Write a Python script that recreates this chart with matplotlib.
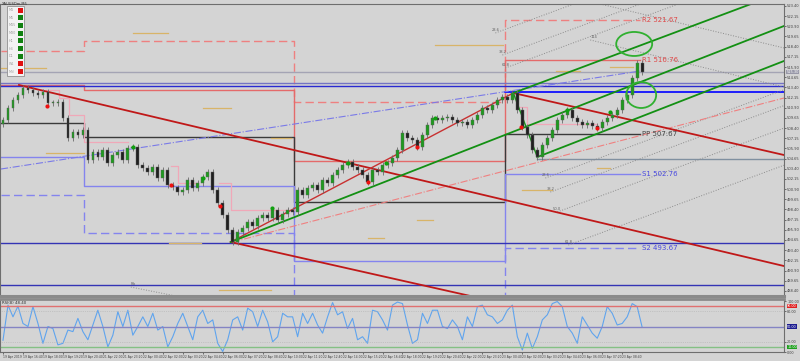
import matplotlib
matplotlib.use('Agg')
import matplotlib.pyplot as plt
import matplotlib.transforms as mtransforms
from matplotlib.patches import Ellipse, Rectangle
import numpy as np

# close price per bar
closes = [
    509.39, 510.86, 511.85, 512.46, 513.32, 513.08, 512.71, 512.46, 512.83, 511.48,
    511.48, 511.60, 509.64, 507.18, 507.92, 507.55, 508.16, 504.48, 505.46, 504.84,
    505.70, 504.11, 505.09, 505.46, 504.48, 505.95, 506.07, 503.86, 503.49, 503.00,
    503.62, 502.26, 503.25, 501.40, 501.10, 500.54, 500.79, 502.02, 501.04, 501.65,
    502.39, 503.00, 500.79, 499.19, 497.72, 495.88, 494.40, 495.63, 496.12, 496.86,
    496.37, 497.35, 497.72, 497.35, 498.33, 497.10, 497.84, 498.33, 498.09, 500.79,
    500.18, 501.04, 501.40, 500.79, 502.02, 501.65, 502.63, 503.25, 503.86, 504.23,
    503.62, 503.25, 502.63, 501.77, 503.25, 503.00, 503.86, 504.11, 504.72, 505.70,
    507.79, 507.18, 506.93, 506.07, 507.55, 508.78, 509.64, 509.39, 509.64, 509.76,
    509.39, 509.02, 509.14, 508.78, 509.39, 510.00, 510.86, 510.62, 511.23, 511.85,
    512.22, 511.85, 512.71, 510.62, 508.53, 507.55, 505.70, 504.84, 506.32, 507.18,
    508.16, 509.39, 510.00, 510.62, 509.64, 509.14, 508.78, 509.02, 508.65, 508.41,
    509.14, 509.64, 510.00, 510.62, 511.85, 512.46, 514.55, 516.40, 515.30]
first_open = 508.90

rsi_vals = [
    23, 92, 69, 90, 56, 50, 89, 56, 17, 50, 46, 14, 17, 43, 40, 66, 40, 24, 53, 82,
    50, 10, 33, 79, 50, 82, 33, 50, 69, 50, 76, 43, 50, 10, 30, 56, 76, 50, 24, 69,
    82, 56, 63, 17, 1, 24, 63, 69, 43, 86, 79, 50, 82, 59, 20, 30, 76, 69, 69, 30,
    76, 56, 76, 53, 37, 69, 97, 73, 79, 46, 66, 24, 30, 17, 82, 79, 63, 43, 92, 98,
    95, 53, 17, 24, 76, 56, 82, 82, 50, 46, 63, 50, 24, 69, 50, 89, 92, 73, 69, 56,
    63, 82, 92, 30, 4, 37, 7, 30, 63, 73, 95, 99, 89, 50, 37, 17, 69, 53, 37, 27,
    50, 89, 76, 53, 56, 69, 95, 89, 48.4]

time_labels = [
    "19 Apr 2019", "19 Apr 16:40", "19 Apr 18:00", "19 Apr 19:20", "19 Apr 20:40",
    "21 Apr 22:00", "21 Apr 23:20", "22 Apr 00:40", "22 Apr 02:00", "22 Apr 03:20",
    "22 Apr 04:40", "22 Apr 06:00", "22 Apr 07:20", "22 Apr 08:40", "22 Apr 10:00",
    "22 Apr 11:20", "22 Apr 12:40", "22 Apr 14:00", "22 Apr 15:20", "22 Apr 16:40",
    "22 Apr 18:00", "22 Apr 19:20", "22 Apr 20:40", "22 Apr 22:00", "22 Apr 23:20",
    "23 Apr 00:40", "23 Apr 02:00", "23 Apr 03:20", "23 Apr 04:40", "23 Apr 06:00",
    "23 Apr 07:20", "23 Apr 08:40"]

# daily pivots (bar index of day starts)
day_edges = [-0.4, 16.2, 58.2, 100.6, 127.6]
pivot_r2 = [517.87, 519.10, 511.60, 521.67]
pivot_r1 = [513.69, 513.08, 504.35, 516.76]
pivot_pp = [509.02, 507.30, 499.32, 507.67]
pivot_s1 = [504.84, 501.28, 492.07, 502.76]
pivot_s2 = [500.18, 495.51, 487.03, 493.67]

# horizontal levels
levels_full = [(515.30, '#a4a4b4', 1.0), (513.94, '#7474c4', 1.0), (513.57, '#2a2ad0', 1.0),
               (494.28, '#3434b4', 1.0), (489.12, '#3434b4', 1.0)]
levels_from = [(100.6, 512.83, '#1010ff', 1.3), (107.0, 504.60, '#8090a0', 1.0)]

# trend lines: (start, through point)
red_rays = [((3.2, 513.69), (156.4, 491.45)), ((102.2, 512.71), (156.4, 505.09)),
            ((45.6, 494.40), (93.6, 487.77))]
red_seg = [(45.6, 494.40), (102.2, 512.71)]
green_rays = [((45.6, 494.40), (156.4, 520.94)), ((102.2, 512.71), (149.8, 523.64)),
              ((107.0, 504.84), (156.4, 516.64))]
green_seg = [(102.2, 512.71), (107.0, 504.84)]
fib_starts = [(98.6, 520.08), (100.0, 517.37), (100.6, 515.78),
              (108.6, 502.26), (109.6, 500.54), (111.0, 498.09), (113.2, 494.03)]
fib_names = ["23.6", "38.2", "61.8", "23.6", "38.2", "50.0", "61.8"]
fib_slope = 0.227
gray_down = [((117.6, 519.22), (156.4, 513.44)), ((119.6, 523.64), (156.4, 518.24)),
             ((25.6, 488.87), (34.6, 487.77))]
blue_dashdot = [(-0.4, 503.37), (127.6, 515.41)]
red_dashdot = [(46.0, 494.40), (156.4, 512.09)]

# trailing stop steps
trail_x = [[8.6, 11.2, 13.2, 16.2, 25.0], [33.6, 35.0, 39.0], [43.2, 45.6, 58.2], [103.6, 105.0, 119.0]]
trail_y = [[513.08, 512.09, 510.00, 506.69, 506.69], [503.74, 501.65, 501.65],
           [501.65, 498.33, 498.33], [510.99, 508.90, 508.90]]

# short tan marks (start, end, price)
tan_marks = [(26, 33, 520.08), (-0.4, 8.6, 515.78), (40, 45.6, 510.86), (53.6, 57.6, 507.18),
             (8.6, 16.2, 505.34), (33.2, 39.6, 494.28), (43.2, 53.6, 488.5), (73, 76.2, 494.89),
             (86.6, 100.2, 518.60), (110.8, 115.6, 515.41), (121.6, 126.2, 515.90),
             (104, 110, 500.79), (119, 121.6, 503.49), (83, 86.2, 497.10)]

sell_x = [8.8, 33.6, 43.4, 73, 83, 103.8, 119]
sell_y = [511.11, 501.40, 498.82, 501.77, 506.07, 508.53, 508.41]
buy_x = [26, 40, 53.8, 69, 76.6, 86.6, 113, 121.6]
buy_y = [506.07, 502.26, 498.58, 504.11, 504.11, 509.64, 510.62, 510.37]

circles = [(126.4, 518.73, 7.2, 2.95), (127.8, 512.46, 6.0, 3.19)]

tf_names = ["M1", "M5", "M15", "M30", "H1", "H4", "D1", "W1", "MN"]
tf_state = ['#e01010', '#108010', '#108010', '#108010', '#108010', '#108010', '#108010', '#e01010', '#e01010']

bg = '#d4d4d4'
x_max = 156.4

fig = plt.figure(figsize=(8, 3.61), dpi=100, facecolor=bg)
ax = fig.add_axes([0.0, 1 - 296 / 361, 0.98, 292 / 361], facecolor=bg)
ax2 = fig.add_axes([0.0, 1 - 352 / 361, 0.98, 53 / 361], facecolor=bg, sharex=ax)

ax.set_xlim(-0.6, x_max)
ax.set_ylim(487.77, 523.64)


def ray(a, p0, p1, **kw):
    slope = (p1[1] - p0[1]) / (p1[0] - p0[0])
    a.plot([p0[0], x_max], [p0[1], p0[1] + slope * (x_max - p0[0])], **kw)


# pivots
step_x = day_edges
for vals, col, ls in [(pivot_r2, '#ee8080', (0, (6, 3))), (pivot_r1, '#e46a6a', '-'),
                      (pivot_pp, '#3a3a3a', '-'), (pivot_s1, '#8484ee', '-'),
                      (pivot_s2, '#8484ee', (0, (6, 3)))]:
    ax.plot(step_x, vals + [vals[-1]], drawstyle='steps-post', color=col, lw=1.0, ls=ls)

for name, val, col in [("R2", pivot_r2[-1], '#e04848'), ("R1", pivot_r1[-1], '#e04848'),
                       ("PP", pivot_pp[-1], '#444444'), ("S1", pivot_s1[-1], '#4848e0'),
                       ("S2", pivot_s2[-1], '#4848e0')]:
    ax.text(day_edges[-1] + 0.4, val, f"{name} {val:.2f}", color=col, fontsize=5, va='center')

for y, col, lw in levels_full:
    ax.axhline(y, color=col, lw=lw)
for x0, y, col, lw in levels_from:
    ax.plot([x0, x_max], [y, y], color=col, lw=lw)

for xs_, ys_ in zip(trail_x, trail_y):
    ax.plot(xs_, ys_, drawstyle='steps-post', color='#f0a8b8', lw=0.9)
for x0, x1, y in tan_marks:
    ax.plot([x0, x1], [y, y], color='#d8b468', lw=0.9)

for s, nm in zip(fib_starts, fib_names):
    ray(ax, s, (s[0] + 10, s[1] + 10 * fib_slope), color='#8c8c8c', lw=0.7, ls=':')
    ax.text(s[0], s[1] + 0.2, nm, fontsize=2.6, color='#606060', ha='center')
for p0, p1 in gray_down:
    ray(ax, p0, p1, color='#8c8c8c', lw=0.7, ls=':')
ax.text(gray_down[0][0][0], gray_down[0][0][1] + 0.3, "114", fontsize=2.6, color='#606060')
ax.text(gray_down[2][0][0], gray_down[2][0][1] + 0.2, "Fib", fontsize=2.6, color='#606060')

ax.plot(*zip(*blue_dashdot), color='#7a7ae8', lw=0.8, ls='-.')
ray(ax, red_dashdot[0], red_dashdot[1], color='#f08080', lw=0.8, ls='-.')

for p0, p1 in red_rays:
    ray(ax, p0, p1, color='#c01818', lw=1.3)
ax.plot(*zip(*red_seg), color='#c83030', lw=1.0)
for p0, p1 in green_rays:
    ray(ax, p0, p1, color='#139013', lw=1.3)
ax.plot(*zip(*green_seg), color='#139013', lw=1.0)

# candles
opens = [first_open] + closes[:-1]
xs = np.arange(len(closes))
for i, (o, c) in enumerate(zip(opens, closes)):
    lo, hi = min(o, c), max(o, c)
    ax.vlines(i, lo - 0.35, hi + 0.35, color='#6a6a6a', lw=0.6, zorder=5)
    h = max(hi - lo, 0.08)
    ax.bar(i, h, bottom=lo, width=0.55, color='#1f9a1f' if c >= o else '#202020',
           edgecolor='#606060', lw=0.3, zorder=6)

ax.scatter(sell_x, sell_y, s=9, color='#ee1010', zorder=7, lw=0)
ax.scatter(buy_x, buy_y, s=9, color='#10a010', zorder=7, lw=0)

for cx, cy, w, h in circles:
    ax.add_patch(Ellipse((cx, cy), w, h, fill=False, edgecolor='#30b030', lw=1.3, zorder=8))

# price axis
ax.yaxis.tick_right()
ax.set_yticks(np.arange(488.40, 523.6, 1.25))
ax.yaxis.set_major_formatter(plt.FuncFormatter(lambda v, p: f"{v:.2f}"))
ax.tick_params(axis='y', labelsize=2.6, colors='#404040', length=1.5, width=0.5, pad=0.8)
ax.tick_params(axis='x', labelbottom=False, length=0)
trans = mtransforms.blended_transform_factory(ax.transAxes, ax.transData)
ax.text(1.003, closes[-1], f"{closes[-1]:.2f}", transform=trans, fontsize=2.5, color='white',
        va='center', bbox=dict(boxstyle='square,pad=0.1', fc='#9898a8', ec='none'))
for s in ax.spines.values():
    s.set_color('#6e6e6e')
    s.set_linewidth(0.8)
ax.spines['bottom'].set_linewidth(2.2)
ax.spines['bottom'].set_color('#8a8a8a')

fig.text(2 / 800, 1 - 4 / 361, "XAUUSDm,M5", fontsize=2.6, color='#303030', va='center')

# timeframe widget
fig.patches.append(Rectangle((7 / 800, 1 - 76 / 361), 17 / 800, 70 / 361, transform=fig.transFigure,
                             fc='#f2f2f2', ec='#909090', lw=0.6))
for k, (nm, col) in enumerate(zip(tf_names, tf_state)):
    yy = 1 - (10 + k * 7.7) / 361
    fig.text(9 / 800, yy, nm, fontsize=2.4, color='#a0a0a0', va='center')
    fig.patches.append(Rectangle((18 / 800, yy - 2.5 / 361), 4.5 / 800, 5 / 361,
                                 transform=fig.transFigure, fc=col, ec='none'))

# RSI
ax2.set_ylim(0, 104)
ax2.plot(xs, rsi_vals, color='#5fa4ee', lw=0.8)
ax2.axhline(90, color='#e07070', lw=1.0)
ax2.axhline(50, color='#8484c4', lw=1.0)
ax2.axhline(10, color='#84c084', lw=1.0)
for lv in (80, 20):
    ax2.axhline(lv, color='#b0b0b0', lw=0.5, ls=':')
ax2.text(0.003, 0.93, f"RSI(8) {rsi_vals[-1]:.2f}", transform=ax2.transAxes, fontsize=2.8,
         color='#303030', va='center')
ax2.yaxis.tick_right()
ax2.set_yticks([100, 80, 20, 0])
ax2.set_yticklabels(["100.00", "80.00", "20.00", "0.00"])
ax2.tick_params(axis='y', labelsize=2.4, colors='#404040', length=1.5, width=0.5, pad=0.8)
trans2 = mtransforms.blended_transform_factory(ax2.transAxes, ax2.transData)
for lv, col in [(90, '#e02020'), (50, '#1c1c90'), (10, '#20a020')]:
    ax2.text(1.004, lv, f"{lv:.2f}", transform=trans2, fontsize=2.4, color='white', va='center',
             bbox=dict(boxstyle='square,pad=0.1', fc=col, ec='none'))
ax2.set_xticks(np.arange(0, 4 * len(time_labels), 4))
ax2.set_xticklabels(time_labels)
ax2.tick_params(axis='x', labelsize=2.2, colors='#404040', length=1.5, width=0.5, pad=0.5)
for lab in ax2.get_xticklabels():
    lab.set_horizontalalignment('left')
for s in ax2.spines.values():
    s.set_color('#6e6e6e')
    s.set_linewidth(0.8)
ax2.spines['top'].set_linewidth(2.0)
ax2.spines['top'].set_color('#8a8a8a')

fig.savefig('out.png', dpi=100, facecolor=bg)
